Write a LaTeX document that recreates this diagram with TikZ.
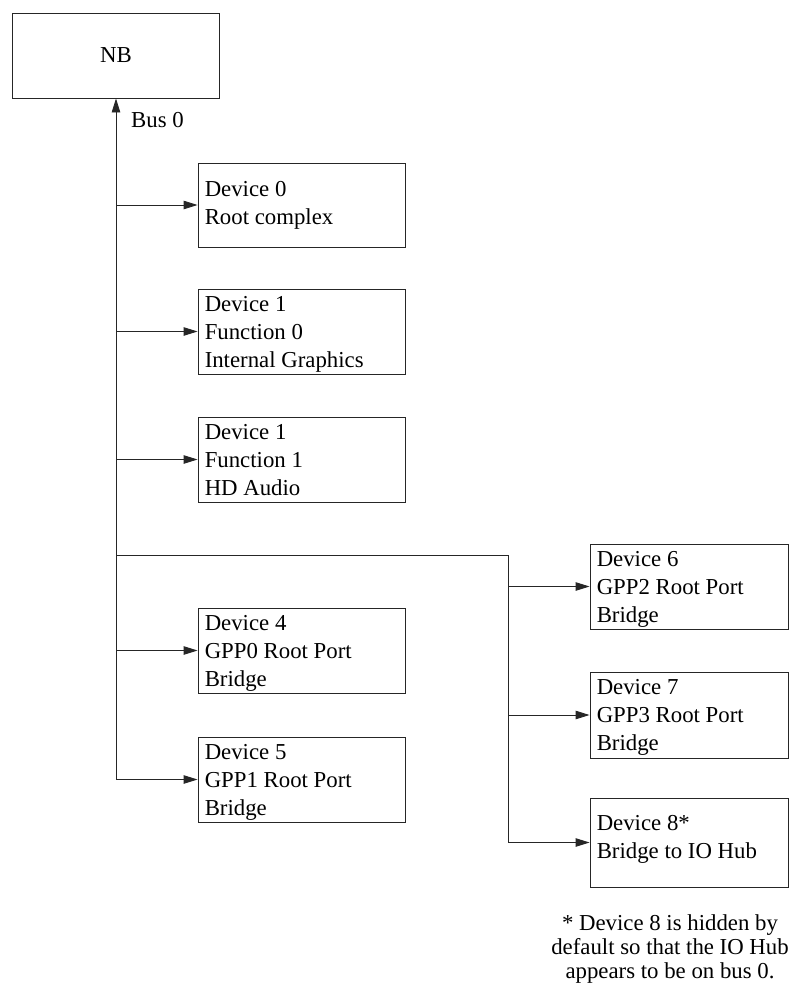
\documentclass[tikz,border=0pt]{standalone}
\usepackage{fontspec}
\setmainfont{Liberation Serif}
\usetikzlibrary{arrows.meta,calc}
\tikzset{
  box/.style={draw=black!85, line width=0.9pt, minimum width=207pt, minimum height=85pt, inner sep=0pt},
  rbox/.style={box, minimum width=198pt},
  btext/.style={anchor=north west, inner sep=0pt, align=left, font=\fontsize{22.8}{28}\selectfont},
  lbl/.style={inner sep=0pt, font=\fontsize{22.8}{28}\selectfont},
  conn/.style={draw=black!85, line width=0.9pt},
  arr/.style={conn, -{Triangle[length=14pt,width=8.5pt]}}
}
\newcommand{\fs}{\rule{0pt}{16pt}}
\begin{document}
\begin{tikzpicture}[x=1pt,y=-1pt]
\useasboundingbox (0,0) rectangle (789,998);
% boxes
\node[box, font=\fontsize{22.8}{28}\selectfont] (nb) at (116,55.5) {NB};
\node[box, minimum height=84pt] (d0) at (301.5,205) {};
\node[box] (d10) at (301.5,331.5) {};
\node[box] (d11) at (301.5,459.5) {};
\node[box] (d4) at (301.5,650.5) {};
\node[box] (d5) at (301.5,779.5) {};
\node[rbox] (d6) at (689,586.5) {};
\node[rbox, minimum height=86pt] (d7) at (689,715) {};
\node[rbox, minimum height=89pt] (d8) at (689,842.5) {};
% texts
\node[btext] (d0t) at ($(d0.north west)+(7,18)$) {\fs Device 0\\Root complex};
\node[btext] (d10t) at ($(d10.north west)+(7,6.5)$) {\fs Device 1\\Function 0\\Internal Graphics};
\node[btext] (d11t) at ($(d11.north west)+(7,6.5)$) {\fs Device 1\\Function 1\\HD Audio};
\node[btext] (d4t) at ($(d4.north west)+(7,6.5)$) {\fs Device 4\\GPP0 Root Port\\Bridge};
\node[btext] (d5t) at ($(d5.north west)+(7,6.5)$) {\fs Device 5\\GPP1 Root Port\\Bridge};
\node[btext] (d6t) at ($(d6.north west)+(7,6.5)$) {\fs Device 6\\GPP2 Root Port\\Bridge};
\node[btext] (d7t) at ($(d7.north west)+(7,6.5)$) {\fs Device 7\\GPP3 Root Port\\Bridge};
\node[btext] (d8t) at ($(d8.north west)+(7,17)$) {\fs Device 8*\\Bridge to IO Hub};
\node[lbl, anchor=base west] (bus) at (131,127) {Bus 0};
\node[lbl, anchor=north, align=center, font=\fontsize{22.8}{24}\selectfont] (note) at (670,914)
  {\fs * Device 8 is hidden by\\default so that the IO Hub\\appears to be on bus 0.};
% connectors
\coordinate (t5) at (nb.south |- d5.west);
\coordinate (j1) at (116,555);
\coordinate (j2) at (508,555);
\draw[arr] (t5) -- (nb.south);
\draw[arr] (t5) -- (d5.west);
\draw[arr] (t5 |- d0.west) -- (d0.west);
\draw[arr] (t5 |- d10.west) -- (d10.west);
\draw[arr] (t5 |- d11.west) -- (d11.west);
\draw[arr] (t5 |- d4.west) -- (d4.west);
\draw[conn] (j1) -- (j2);
\draw[arr] (j2) |- (d8.west);
\draw[arr] (j2 |- d6.west) -- (d6.west);
\draw[arr] (j2 |- d7.west) -- (d7.west);
\end{tikzpicture}
\end{document}
